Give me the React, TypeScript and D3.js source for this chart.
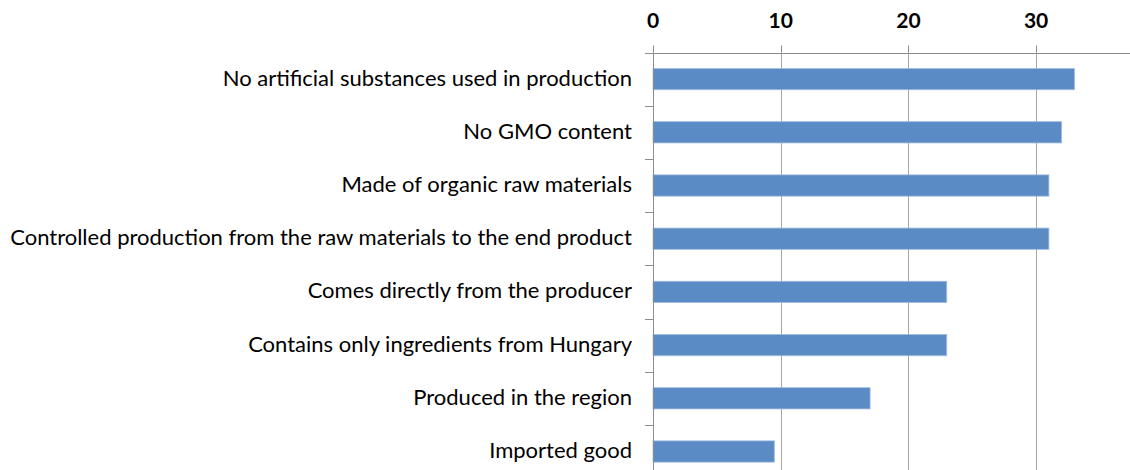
import { useRef, useEffect } from 'react';
import * as d3 from 'd3';

const categories = [
  'No artificial substances used in production',
  'No GMO content',
  'Made of organic raw materials',
  'Controlled production from the raw materials to the end product',
  'Comes directly from the producer',
  'Contains only ingredients from Hungary',
  'Produced in the region',
  'Imported good',
];
const values = [33, 32, 31, 31, 23, 23, 17, 9.5];
const tickValues = [0, 10, 20, 30];

const WIDTH = 1130;
const HEIGHT = 470;

export default function App() {
  const svgRef = useRef<SVGSVGElement>(null);

  useEffect(() => {
    if (!svgRef.current) return;
    const svg = d3.select(svgRef.current);
    svg.selectAll('*').remove();

    const left = 653;
    const top = 52.5;
    const bottom = top + 8 * 53.2;
    const font = 'Lato, "Open Sans", sans-serif';

    const x = d3.scaleLinear().domain([0, 37.35]).range([left, WIDTH]);
    const y = d3.scaleBand().domain(categories).range([top, bottom]).paddingInner(0.6).paddingOuter(0.3);
    const band = d3.scaleBand().domain(categories).range([top, bottom]);

    // vertical gridlines
    svg.append('g')
      .selectAll('line')
      .data(tickValues.slice(1))
      .join('line')
      .attr('x1', (d) => Math.round(x(d)) + 0.5)
      .attr('x2', (d) => Math.round(x(d)) + 0.5)
      .attr('y1', top)
      .attr('y2', bottom)
      .attr('stroke', '#a6a6a6')
      .attr('stroke-width', 1);

    // bars
    svg.append('g')
      .selectAll('rect')
      .data(values)
      .join('rect')
      .attr('x', x(0))
      .attr('y', (_, i) => y(categories[i])!)
      .attr('width', (d) => x(d) - x(0))
      .attr('height', y.bandwidth())
      .attr('fill', '#5b8bc5')
      .attr('stroke', '#a3bde0')
      .attr('stroke-width', 0.8);

    // top axis line
    svg.append('line')
      .attr('x1', left - 8)
      .attr('x2', WIDTH)
      .attr('y1', Math.round(top) + 0.5)
      .attr('y2', Math.round(top) + 0.5)
      .attr('stroke', '#8c8c8c');

    // left axis line + category ticks
    svg.append('line')
      .attr('x1', Math.round(left) + 0.5)
      .attr('x2', Math.round(left) + 0.5)
      .attr('y1', top)
      .attr('y2', bottom)
      .attr('stroke', '#8c8c8c');

    svg.append('g')
      .selectAll('line')
      .data(categories)
      .join('line')
      .attr('x1', left - 8)
      .attr('x2', left)
      .attr('y1', (d) => Math.round(band(d)! + band.bandwidth()) + 0.5)
      .attr('y2', (d) => Math.round(band(d)! + band.bandwidth()) + 0.5)
      .attr('stroke', '#8c8c8c');

    // small ticks above the top axis
    svg.append('g')
      .selectAll('line')
      .data(tickValues)
      .join('line')
      .attr('x1', (d) => Math.round(x(d)) + 0.5)
      .attr('x2', (d) => Math.round(x(d)) + 0.5)
      .attr('y1', top - 7)
      .attr('y2', top)
      .attr('stroke', '#8c8c8c');

    // tick labels
    svg.append('g')
      .selectAll('text')
      .data(tickValues)
      .join('text')
      .attr('x', (d) => x(d))
      .attr('y', 28)
      .attr('text-anchor', 'middle')
      .attr('font-family', font)
      .attr('font-weight', 'bold')
      .attr('font-size', 21)
      .attr('fill', '#000')
      .text((d) => d);

    // category labels
    svg.append('g')
      .selectAll('text')
      .data(categories)
      .join('text')
      .attr('x', left - 21)
      .attr('y', (d) => band(d)! + band.bandwidth() / 2 + 1)
      .attr('text-anchor', 'end')
      .attr('dominant-baseline', 'middle')
      .attr('font-family', font)
      .attr('font-size', 22)
      .attr('fill', '#000')
      .text((d) => d);
  }, []);

  return (
    <svg
      ref={svgRef}
      width={WIDTH}
      height={HEIGHT}
      style={{ position: 'absolute', left: 0, top: 0, background: '#fff' }}
    />
  );
}
